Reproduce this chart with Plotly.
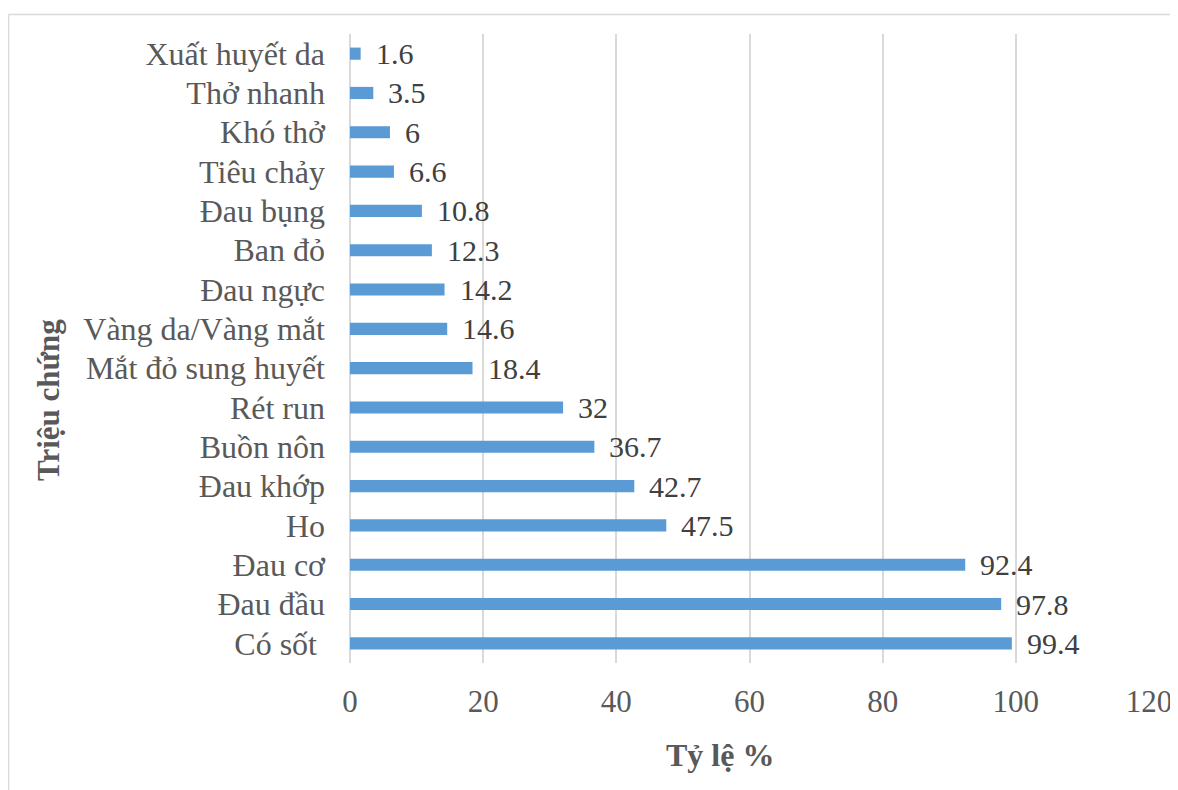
import plotly.graph_objects as go

categories = ["Có sốt ", "Đau đầu", "Đau cơ", "Ho", "Đau khớp", "Buồn nôn", "Rét run",
              "Mắt đỏ sung huyết", "Vàng da/Vàng mắt", "Đau ngực", "Ban đỏ", "Đau bụng",
              "Tiêu chảy", "Khó thở", "Thở nhanh", "Xuất huyết da"]
values = [99.4, 97.8, 92.4, 47.5, 42.7, 36.7, 32, 18.4, 14.6, 14.2, 12.3, 10.8, 6.6, 6, 3.5, 1.6]
x_ticks = [0, 20, 40, 60, 80, 100, 120]

FONT = "Liberation Serif, Times New Roman, serif"
OFF = 8  # browser body margin
W, H = 1178 - OFF, 790 - OFF
L, T = 350 - OFF, 34 - OFF
R = W - (1149 - OFF)
B = H - (663 - OFF)
pw, ph = W - L - R, H - T - B


def px_x(px):
    return (px - OFF - L) / pw


def px_y(py):
    return (H - B - (py - OFF)) / ph


fig = go.Figure()
fig.add_trace(go.Bar(
    y=categories, x=values, orientation="h",
    marker=dict(color="#5B9BD5", line=dict(width=0)),
    width=0.31, hoverinfo="x+y",
))

annotations = []
for c, v in zip(categories, values):
    annotations.append(dict(
        x=v, y=c, xref="x", yref="y", text=f"{v:g}", showarrow=False,
        xanchor="left", yanchor="middle", xshift=13,
        font=dict(family=FONT, size=30, color="#404040"),
    ))

annotations.append(dict(
    x=px_x(48), y=px_y(400), xref="paper", yref="paper", text="<b>Triệu chứng</b>",
    showarrow=False, textangle=-90, xanchor="center", yanchor="middle",
    font=dict(family=FONT, size=31, color="#595959"),
))
annotations.append(dict(
    x=px_x(720), y=px_y(755), xref="paper", yref="paper", text="<b>Tỷ lệ %</b>",
    showarrow=False, xanchor="center", yanchor="middle",
    font=dict(family=FONT, size=32, color="#595959"),
))

shapes = [
    dict(type="line", xref="paper", yref="paper", x0=px_x(8.5), x1=px_x(1190),
         y0=px_y(14.5), y1=px_y(14.5), line=dict(color="#d9d9d9", width=1.5)),
    dict(type="line", xref="paper", yref="paper", x0=px_x(8.5), x1=px_x(8.5),
         y0=px_y(14.5), y1=px_y(800), line=dict(color="#d9d9d9", width=1.5)),
]

fig.update_layout(
    width=W, height=H,
    margin=dict(l=L, r=R, t=T, b=B, autoexpand=False),
    paper_bgcolor="white", plot_bgcolor="white",
    showlegend=False,
    annotations=annotations, shapes=shapes,
    xaxis=dict(
        range=[0, 120], tickvals=x_ticks, ticktext=[str(t) for t in x_ticks],
        showgrid=True, gridcolor="#d9d9d9", gridwidth=1.5,
        zeroline=True, zerolinecolor="#d9d9d9", zerolinewidth=1.5,
        showline=False, ticks="", ticklabelstandoff=17,
        tickfont=dict(family=FONT, size=31, color="#595959"),
        fixedrange=True,
    ),
    yaxis=dict(
        type="category", categoryorder="array", categoryarray=categories,
        showgrid=False, zeroline=False, showline=False, ticks="",
        ticklabelstandoff=24,
        tickfont=dict(family=FONT, size=32, color="#595959"),
        fixedrange=True,
    ),
)

fig.write_html("out.html")
